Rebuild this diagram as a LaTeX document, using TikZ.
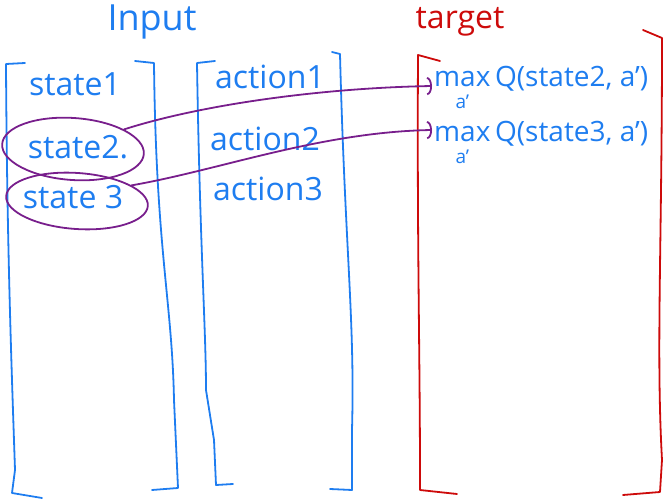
\documentclass[tikz,border=0pt]{standalone}
\usepackage{fontspec}
\setmainfont{Open Sans}
\usetikzlibrary{positioning, shapes.geometric, arrows.meta}
\definecolor{penblue}{RGB}{30,125,240}
\definecolor{penred}{RGB}{205,10,10}
\definecolor{penpurple}{RGB}{120,30,140}
% max with a' set under it, kept out of the line height
\newcommand{\maxover}{\leavevmode\setbox0=\hbox{max}%
  \rlap{\hbox to \wd0{\hss\smash{\raisebox{-0.78em}{\fontsize{19}{19}\selectfont a'}}\hss}}\box0}

\begin{document}
\begin{tikzpicture}[x=1pt, y=-1pt,
  pen/.style={line width=1.8pt, line cap=round, line join=round},
  blue pen/.style={pen, draw=penblue},
  red pen/.style={pen, draw=penred},
  entry/.style={text=penblue, font=\fontsize{32}{36}\selectfont, inner sep=2pt},
  heading/.style={entry, font=\fontsize{36}{40}\selectfont},
  goal/.style={entry, font=\fontsize{28}{32}\selectfont, anchor=west},
  ring/.style={ellipse, draw=penpurple, line width=1.8pt, minimum width=142pt, minimum height=62pt},
  link/.style={-{Arc Barb[length=5pt, width=18pt]}, draw=penpurple, line width=1.8pt, line cap=round}
]
\useasboundingbox (0,0) rectangle (665,500);

% headings
\node[heading] (input) at (152,22) {Input};
\node[entry, text=penred] (target) at (460,22) {target};

% input columns
\node[entry] (s1) at (75,84) {state1};
\node[entry] (s2) at (78,147) {state2.};
\node[entry] (s3) at (73,197) {state 3};
\node[entry] (a1) at (270,77) {action1};
\node[entry] (a2) at (265,139) {action2};
\node[entry] (a3) at (268,189) {action3};

% target column
\node[goal] (t1) at (432,79) {\maxover\,Q(state2, a')};
\node[goal] (t2) at (432,134) {\maxover\,Q(state3, a')};

% brackets
\draw[blue pen] (25,63) -- (6,64) .. controls (7,250) and (12,380) .. (15,470) -- (12,493) -- (42,498);
\draw[blue pen] (135,61) -- (154,63) .. controls (156,250) and (172,300) .. (174,400) -- (178,488) -- (152,490);
\draw[blue pen] (215,61) -- (197,63) .. controls (200,250) and (206,330) .. (206,390) -- (214,440) -- (216,485) -- (233,484);
\draw[blue pen] (332,52) -- (340,54) .. controls (345,250) and (355,320) .. (352,430) -- (352,490) -- (330,489);
\draw[red pen] (440,61) -- (418,55) .. controls (417,250) and (420,350) .. (420,480) -- (420,490) -- (457,494);
\draw[red pen] (643,30) -- (662,38) .. controls (662,250) and (656,350) .. (662,460) -- (660,492) -- (623,495);

% picked states
\node[ring, rotate=-4] (s2ring) at (73,149) {};
\node[ring, minimum height=56pt, rotate=-4] (s3ring) at (77,201) {};

\draw[link] (s2ring.25) .. controls (200,105) and (320,88) .. ([yshift=-7pt]t1.west);
\draw[link] (s3ring.20) .. controls (220,170) and (320,132) .. ([yshift=4pt]t2.west);

\end{tikzpicture}
\end{document}
